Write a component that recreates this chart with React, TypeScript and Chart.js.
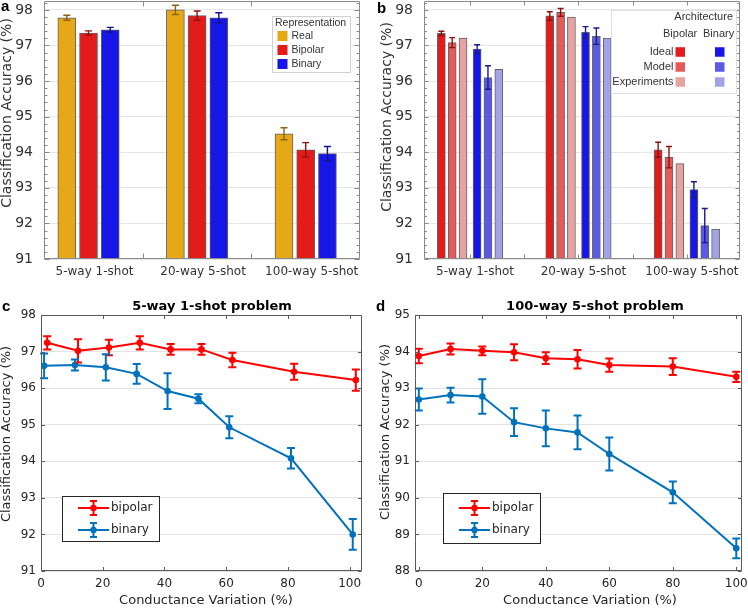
import React, { useEffect, useRef } from 'react';
import { Chart, registerables } from 'chart.js';
Chart.register(...registerables);

const VERDANA = "'DejaVu Sans', Verdana, sans-serif";
const ARIAL = "'Liberation Sans', Arial, sans-serif";

// ---------------- data: panel a ----------------
const barCategories = ['5-way 1-shot', '20-way 5-shot', '100-way 5-shot'];
const representationLabels = ['Real', 'Bipolar', 'Binary'];
const realAcc = [97.78, 98.0, 94.52];
const realErr = [0.07, 0.13, 0.17];
const bipolarAcc = [97.35, 97.84, 94.07];
const bipolarErr = [0.06, 0.13, 0.2];
const binaryAcc = [97.44, 97.78, 93.96];
const binaryErr = [0.07, 0.14, 0.2];

// ---------------- data: panel b ----------------
const architectureTitle = 'Architecture';
const architectureRows = ['Ideal', 'Model', 'Experiments'];
const architectureCols = ['Bipolar', 'Binary'];
const bipolarIdeal = [97.34, 97.83, 94.07];
const bipolarIdealErr = [0.06, 0.12, 0.21];
const bipolarModel = [97.08, 97.93, 93.86];
const bipolarModelErr = [0.14, 0.11, 0.3];
const bipolarExperiments = [97.21, 97.8, 93.68];
const binaryIdeal = [96.9, 97.37, 92.95];
const binaryIdealErr = [0.12, 0.16, 0.22];
const binaryModel = [96.1, 97.26, 91.94];
const binaryModelErr = [0.33, 0.23, 0.48];
const binaryExperiments = [96.33, 97.21, 91.84];
const accuracyTicksAB = [91, 92, 93, 94, 95, 96, 97, 98];

// ---------------- data: panel c ----------------
const cTitle = '5-way 1-shot problem';
const cBipolarX = [2, 12, 22, 32, 42, 52, 62, 82, 102];
const cBipolarY = [97.24, 97.02, 97.11, 97.24, 97.06, 97.06, 96.77, 96.45, 96.22];
const cBipolarErr = [0.18, 0.32, 0.21, 0.18, 0.15, 0.15, 0.2, 0.22, 0.29];
const cBinaryX = [1, 11, 21, 31, 41, 51, 61, 81, 101];
const cBinaryY = [96.61, 96.63, 96.57, 96.39, 95.92, 95.71, 94.93, 94.08, 92.0];
const cBinaryErr = [0.34, 0.15, 0.36, 0.27, 0.49, 0.12, 0.3, 0.28, 0.42];
const cAccuracyTicks = [91, 92, 93, 94, 95, 96, 97, 98];

// ---------------- data: panel d ----------------
const dTitle = '100-way 5-shot problem';
const dBipolarX = [0, 10, 20, 30, 40, 50, 60, 80, 100];
const dBipolarY = [93.88, 94.07, 94.02, 93.98, 93.82, 93.79, 93.63, 93.59, 93.31];
const dBipolarErr = [0.2, 0.15, 0.12, 0.22, 0.16, 0.25, 0.18, 0.23, 0.14];
const dBinaryX = [0, 10, 20, 30, 40, 50, 60, 80, 100];
const dBinaryY = [92.69, 92.81, 92.77, 92.07, 91.9, 91.79, 91.2, 90.15, 88.62];
const dBinaryErr = [0.3, 0.2, 0.47, 0.38, 0.49, 0.46, 0.45, 0.3, 0.27];
const dAccuracyTicks = [88, 89, 90, 91, 92, 93, 94, 95];

const variationTicks = [0, 20, 40, 60, 80, 100];
const seriesNames = ['bipolar', 'binary'];
const yTitle = 'Classification Accuracy (%)';
const xTitle = 'Conductance Variation (%)';

// ---------------- colours ----------------
const GOLD = '#E6A817';
const RED = '#E41B1B';
const BLUE = '#1616E6';
const RED_M = '#E65A5A';
const RED_E = '#E8A2A2';
const BLUE_M = '#5A5AE6';
const BLUE_E = '#A2A2E6';
const LINE_RED = '#FF0000';
const LINE_BLUE = '#0072BD';

// ---------------- plugins ----------------
const errorBarPlugin = {
  id: 'errorBars',
  afterDatasetsDraw(chart: any) {
    const ctx = chart.ctx;
    const ys = chart.scales.y;
    const order = chart.data.datasets.map((_: any, i: number) => i).reverse();
    order.forEach((i: number) => {
      const ds: any = chart.data.datasets[i];
      if (!ds.errors) return;
      const meta = chart.getDatasetMeta(i);
      ctx.save();
      ctx.strokeStyle = ds.errorColor;
      ctx.lineWidth = ds.errorWidth;
      meta.data.forEach((el: any, j: number) => {
        const e = ds.errors[j];
        if (e == null) return;
        const v = ds.data[j].y;
        const x = el.x;
        const y1 = ys.getPixelForValue(v - e);
        const y2 = ys.getPixelForValue(v + e);
        const cw = ds.capWidth / 2;
        ctx.beginPath();
        ctx.moveTo(x, y1); ctx.lineTo(x, y2);
        ctx.moveTo(x - cw, y1); ctx.lineTo(x + cw, y1);
        ctx.moveTo(x - cw, y2); ctx.lineTo(x + cw, y2);
        ctx.stroke();
      });
      ctx.restore();
    });
  },
};

const framePlugin = {
  id: 'frame',
  afterDraw(chart: any, _a: any, o: any) {
    const { ctx, chartArea: ca, scales } = chart;
    const L = Math.round(ca.left) + 0.5;
    const R = Math.round(ca.right) - 0.5;
    const T = Math.round(ca.top) + 0.5;
    const B = Math.round(ca.bottom) - 0.5;
    ctx.save();
    ctx.strokeStyle = o.color;
    ctx.lineWidth = 1;
    ctx.beginPath();
    ctx.rect(L, T, R - L, B - T);
    (o.xTicks || []).forEach((v: number) => {
      const x = Math.round(scales.x.getPixelForValue(v)) + 0.5;
      ctx.moveTo(x, B); ctx.lineTo(x, B - o.len);
      ctx.moveTo(x, T); ctx.lineTo(x, T + o.len);
    });
    (o.yTicks || []).forEach((v: number) => {
      const y = Math.round(scales.y.getPixelForValue(v)) + 0.5;
      ctx.moveTo(L, y); ctx.lineTo(L + o.len, y);
      ctx.moveTo(R, y); ctx.lineTo(R - o.len, y);
    });
    (o.yMinor || []).forEach((v: number) => {
      const y = Math.round(scales.y.getPixelForValue(v)) + 0.5;
      ctx.moveTo(L, y); ctx.lineTo(L + o.minorLen, y);
      ctx.moveTo(R, y); ctx.lineTo(R - o.minorLen, y);
    });
    ctx.stroke();
    ctx.restore();
  },
};

const textPlugin = {
  id: 'texts',
  afterDraw(chart: any, _a: any, o: any) {
    const ctx = chart.ctx;
    (o.items || []).forEach((t: any) => {
      ctx.save();
      ctx.font = t.font;
      ctx.fillStyle = t.color || '#262626';
      ctx.textAlign = t.align || 'center';
      ctx.textBaseline = 'middle';
      ctx.translate(t.x, t.y);
      if (t.rotate) ctx.rotate(t.rotate);
      ctx.fillText(t.text, 0, 0);
      ctx.restore();
    });
  },
};

const swatchLegendPlugin = {
  id: 'swatchLegend',
  afterDraw(chart: any, _a: any, o: any) {
    const ctx = chart.ctx;
    ctx.save();
    const b = o.box;
    ctx.fillStyle = '#fff';
    ctx.fillRect(b.x, b.y, b.w, b.h);
    ctx.strokeStyle = o.borderColor;
    ctx.lineWidth = 1;
    ctx.strokeRect(b.x + 0.5, b.y + 0.5, b.w, b.h);
    ctx.font = o.font;
    ctx.fillStyle = '#333';
    ctx.textBaseline = 'middle';
    (o.texts || []).forEach((t: any) => {
      ctx.textAlign = t.align;
      ctx.fillText(t.text, t.x, t.y);
    });
    (o.swatches || []).forEach((s: any) => {
      ctx.fillStyle = s.color;
      ctx.fillRect(s.x, s.y - s.size / 2, s.size, s.size);
    });
    ctx.restore();
  },
};

const lineLegendPlugin = {
  id: 'lineLegend',
  afterDraw(chart: any, _a: any, o: any) {
    const ctx = chart.ctx;
    const b = o.box;
    ctx.save();
    ctx.fillStyle = '#fff';
    ctx.fillRect(b.x, b.y, b.w, b.h);
    ctx.strokeStyle = '#262626';
    ctx.lineWidth = 1;
    ctx.strokeRect(b.x + 0.5, b.y + 0.5, b.w, b.h);
    o.items.forEach((it: any) => {
      const mid = (o.x1 + o.x2) / 2;
      ctx.strokeStyle = it.color;
      ctx.fillStyle = it.color;
      ctx.lineWidth = 2;
      ctx.beginPath();
      ctx.moveTo(o.x1, it.y); ctx.lineTo(o.x2, it.y);
      ctx.moveTo(mid, it.y - 7); ctx.lineTo(mid, it.y + 7);
      ctx.moveTo(mid - 3.5, it.y - 7); ctx.lineTo(mid + 3.5, it.y - 7);
      ctx.moveTo(mid - 3.5, it.y + 7); ctx.lineTo(mid + 3.5, it.y + 7);
      ctx.stroke();
      ctx.beginPath();
      ctx.arc(mid, it.y, 3.2, 0, Math.PI * 2);
      ctx.fill();
      ctx.fillStyle = '#262626';
      ctx.font = o.font;
      ctx.textAlign = 'left';
      ctx.textBaseline = 'middle';
      ctx.fillText(it.label, o.textX, it.y);
    });
    ctx.restore();
  },
};

// ---------------- helpers ----------------
function yScale(min: number, max: number, ticks: number[], width: number, size: number, padding: number, color: string, grid: string) {
  return {
    type: 'linear',
    min,
    max,
    afterBuildTicks: (s: any) => { s.ticks = ticks.map((v) => ({ value: v })); },
    afterFit: (s: any) => { s.width = width; s.paddingTop = 0; s.paddingBottom = 0; },
    grid: { color: grid, drawTicks: false, lineWidth: 1 },
    border: { display: false },
    ticks: { padding, color, font: { family: VERDANA, size } },
  };
}

function minorTicks(from: number, to: number, step: number) {
  const out: number[] = [];
  for (let v = from; v <= to + 1e-9; v += step) out.push(Math.round(v * 100) / 100);
  return out;
}

function barDataset(label: string, values: number[], errors: number[] | null, offset: number, color: string, errColor: string, thickness: number) {
  return {
    label,
    data: values.map((v, i) => ({ x: i + 1 + offset, y: v })),
    backgroundColor: color,
    borderColor: 'rgba(70,70,70,0.85)',
    borderWidth: 1,
    barThickness: thickness,
    grouped: false,
    base: 91,
    errors,
    errorColor: errColor,
    errorWidth: 1.4,
    capWidth: thickness > 10 ? 7 : 6,
  };
}

function barX(min: number, max: number, labelOffset: number) {
  return {
    type: 'linear',
    min,
    max,
    offset: false,
    afterBuildTicks: (s: any) => { s.ticks = [1, 2, 3].map((v) => ({ value: v })); },
    afterFit: (s: any) => { s.height = 31; s.paddingLeft = 0; s.paddingRight = 0; },
    grid: { display: false, drawTicks: false },
    border: { display: false },
    ticks: {
      padding: 6,
      labelOffset,
      autoSkip: false,
      maxRotation: 0,
      color: '#333',
      font: { family: VERDANA, size: 12 },
      callback: (v: any) => barCategories[Math.round(v) - 1] ?? '',
    },
  };
}

function makePanelA() {
  return {
    type: 'bar',
    data: {
      datasets: [
        barDataset(representationLabels[0], realAcc, realErr, -0.2, GOLD, '#8a6410', 18),
        barDataset(representationLabels[1], bipolarAcc, bipolarErr, 0, RED, '#8c1212', 18),
        barDataset(representationLabels[2], binaryAcc, binaryErr, 0.2, BLUE, '#12128c', 18),
      ],
    },
    options: {
      responsive: false,
      animation: false,
      events: [],
      layout: { padding: { left: 0, right: 14, top: 1, bottom: 0 }, autoPadding: false },
      scales: {
        x: barX(0.59, 3.5, 6),
        y: yScale(91, 98.25, accuracyTicksAB, 44, 14, 11, '#333', '#e6e6e6'),
      },
      plugins: {
        legend: { display: false },
        tooltip: { enabled: false },
        frame: { color: '#8a8a8a', xTicks: [1.5, 2.5], yTicks: accuracyTicksAB, yMinor: minorTicks(91, 98.2, 0.2), len: 5, minorLen: 3 },
        swatchLegend: {
          box: { x: 272, y: 16, w: 78, h: 56 },
          borderColor: '#d0d0d0',
          font: `10.5px ${ARIAL}`,
          texts: [
            { text: 'Representation', x: 275, y: 23.5, align: 'left' },
            { text: representationLabels[0], x: 291.5, y: 36, align: 'left' },
            { text: representationLabels[1], x: 291.5, y: 50, align: 'left' },
            { text: representationLabels[2], x: 291.5, y: 64, align: 'left' },
          ],
          swatches: [
            { color: GOLD, x: 277.5, y: 36, size: 10 },
            { color: RED, x: 277.5, y: 50, size: 10 },
            { color: BLUE, x: 277.5, y: 64, size: 10 },
          ],
        },
        texts: {
          items: [
            { text: 'a', x: 1, y: 7, align: 'left', font: `bold 15px ${ARIAL}`, color: '#000' },
            { text: yTitle, x: 7, y: 113, rotate: -Math.PI / 2, font: `14px ${VERDANA}`, color: '#333' },
          ],
        },
      },
    },
    plugins: [errorBarPlugin, framePlugin, swatchLegendPlugin, textPlugin],
  };
}

function makePanelB() {
  return {
    type: 'bar',
    data: {
      datasets: [
        barDataset('Bipolar Ideal', bipolarIdeal, bipolarIdealErr, -0.265, RED, '#8c1212', 8),
        barDataset('Bipolar Model', bipolarModel, bipolarModelErr, -0.165, RED_M, '#8c1212', 8),
        barDataset('Bipolar Experiments', bipolarExperiments, null, -0.065, RED_E, '#8c1212', 8),
        barDataset('Binary Ideal', binaryIdeal, binaryIdealErr, 0.065, BLUE, '#1a1a8c', 8),
        barDataset('Binary Model', binaryModel, binaryModelErr, 0.165, BLUE_M, '#1a1a8c', 8),
        barDataset('Binary Experiments', binaryExperiments, null, 0.265, BLUE_E, '#1a1a8c', 8),
      ],
    },
    options: {
      responsive: false,
      animation: false,
      events: [],
      layout: { padding: { left: 0, right: 8, top: 1, bottom: 0 }, autoPadding: false },
      scales: {
        x: barX(0.575, 3.49, 5),
        y: yScale(91, 98.25, accuracyTicksAB, 50, 14, 11, '#333', '#e6e6e6'),
      },
      plugins: {
        legend: { display: false },
        tooltip: { enabled: false },
        frame: { color: '#8a8a8a', xTicks: [1, 1.5, 2, 2.5, 3], yTicks: accuracyTicksAB, yMinor: minorTicks(91, 98.2, 0.2), len: 4, minorLen: 2.5 },
        swatchLegend: {
          box: { x: 237, y: 10, w: 125, h: 83 },
          borderColor: '#e0e0e0',
          font: `11px ${ARIAL}`,
          texts: [
            { text: architectureTitle, x: 359, y: 17, align: 'right' },
            { text: architectureCols[0], x: 289, y: 34, align: 'left' },
            { text: architectureCols[1], x: 329, y: 34, align: 'left' },
            { text: architectureRows[0], x: 299.5, y: 52, align: 'right' },
            { text: architectureRows[1], x: 299.5, y: 67, align: 'right' },
            { text: architectureRows[2], x: 299.5, y: 82, align: 'right' },
          ],
          swatches: [
            { color: RED, x: 301.5, y: 52, size: 9.5 },
            { color: RED_M, x: 301.5, y: 67, size: 9.5 },
            { color: RED_E, x: 301.5, y: 82, size: 9.5 },
            { color: BLUE, x: 341, y: 52, size: 9.5 },
            { color: BLUE_M, x: 341, y: 67, size: 9.5 },
            { color: BLUE_E, x: 341, y: 82, size: 9.5 },
          ],
        },
        texts: {
          items: [
            { text: 'b', x: 3, y: 9, align: 'left', font: `bold 15px ${ARIAL}`, color: '#000' },
            { text: yTitle, x: 13, y: 117, rotate: -Math.PI / 2, font: `14px ${VERDANA}`, color: '#333' },
          ],
        },
      },
    },
    plugins: [errorBarPlugin, framePlugin, swatchLegendPlugin, textPlugin],
  };
}

function lineDataset(label: string, xs: number[], ys: number[], errs: number[], color: string) {
  return {
    label,
    data: xs.map((x, i) => ({ x, y: ys[i] })),
    borderColor: color,
    backgroundColor: color,
    borderWidth: 2,
    pointRadius: 3.3,
    pointBorderWidth: 0,
    pointBackgroundColor: color,
    tension: 0,
    errors: errs,
    errorColor: color,
    errorWidth: 2,
    capWidth: 8,
  };
}

function makeLinePanel(p: any) {
  return {
    type: 'line',
    data: {
      datasets: [
        lineDataset(seriesNames[1], p.binX, p.binY, p.binE, LINE_BLUE),
        lineDataset(seriesNames[0], p.bipX, p.bipY, p.bipE, LINE_RED),
      ],
    },
    options: {
      responsive: false,
      animation: false,
      events: [],
      layout: { padding: { left: 0, right: p.padRight, top: 25, bottom: 0 }, autoPadding: false },
      scales: {
        x: {
          type: 'linear',
          min: p.xMin,
          max: p.xMax,
          afterBuildTicks: (s: any) => { s.ticks = variationTicks.map((v) => ({ value: v })); },
          afterFit: (s: any) => { s.height = 38; s.paddingLeft = 0; s.paddingRight = 0; },
          grid: { display: false, drawTicks: false },
          border: { display: false },
          ticks: { padding: 6, color: '#262626', maxRotation: 0, font: { family: VERDANA, size: 12 } },
        },
        y: yScale(p.yMin, p.yMax, p.yTicks, p.yWidth, 12, 5, '#262626', '#e3e3e3'),
      },
      plugins: {
        legend: { display: false },
        tooltip: { enabled: false },
        frame: { color: '#5a5a5a', xTicks: variationTicks, yTicks: p.yTicks, len: 3.5 },
        lineLegend: {
          box: p.legendBox,
          x1: p.legendX1,
          x2: p.legendX2,
          textX: p.legendTextX,
          font: `12px ${VERDANA}`,
          items: [
            { label: seriesNames[0], color: LINE_RED, y: p.legendY[0] },
            { label: seriesNames[1], color: LINE_BLUE, y: p.legendY[1] },
          ],
        },
        texts: {
          items: [
            { text: p.letter, x: 2, y: 17, align: 'left', font: `bold 15px ${ARIAL}`, color: '#000' },
            { text: p.title, x: p.titleX, y: 17, font: `bold 13px ${VERDANA}`, color: '#000' },
            { text: xTitle, x: p.xTitleX, y: 311, font: `13px ${VERDANA}`, color: '#262626' },
            { text: yTitle, x: p.yTitleX, y: p.yTitleY, rotate: -Math.PI / 2, font: `13px ${VERDANA}`, color: '#262626' },
          ],
        },
      },
    },
    plugins: [errorBarPlugin, framePlugin, lineLegendPlugin, textPlugin],
  };
}

function makePanelC() {
  return makeLinePanel({
    binX: cBinaryX, binY: cBinaryY, binE: cBinaryErr,
    bipX: cBipolarX, bipY: cBipolarY, bipE: cBipolarErr,
    xMin: 0, xMax: 104, yMin: 91, yMax: 98, yTicks: cAccuracyTicks,
    yWidth: 41, padRight: 12,
    legendBox: { x: 62, y: 206, w: 97, h: 45 },
    legendX1: 78, legendX2: 109, legendTextX: 111, legendY: [218, 240],
    letter: 'c', title: cTitle, titleX: 212, xTitleX: 206, yTitleX: 7, yTitleY: 144,
  });
}

function makePanelD() {
  return makeLinePanel({
    binX: dBinaryX, binY: dBinaryY, binE: dBinaryErr,
    bipX: dBipolarX, bipY: dBipolarY, bipE: dBipolarErr,
    xMin: -1.2, xMax: 101.8, yMin: 88, yMax: 95, yTicks: dAccuracyTicks,
    yWidth: 41, padRight: 6,
    legendBox: { x: 69, y: 203, w: 97, h: 50 },
    legendX1: 85, legendX2: 116, legendTextX: 118, legendY: [218, 240],
    letter: 'd', title: dTitle, titleX: 221, xTitleX: 216, yTitleX: 12, yTitleY: 142,
  });
}

function ChartCanvas({ left, top, width, height, make }: { left: number; top: number; width: number; height: number; make: () => any }) {
  const ref = useRef<HTMLCanvasElement>(null);
  useEffect(() => {
    const chart = new Chart(ref.current as HTMLCanvasElement, make());
    return () => chart.destroy();
  }, []);
  return (
    <div style={{ position: 'absolute', left, top, width, height }}>
      <canvas ref={ref} width={width} height={height} style={{ width, height, display: 'block' }} />
    </div>
  );
}

export default function App() {
  return (
    <div style={{ position: 'absolute', left: 0, top: 0, width: 748, height: 609, background: '#fff', overflow: 'hidden' }}>
      <ChartCanvas left={0} top={0} width={374} height={290} make={makePanelA} />
      <ChartCanvas left={374} top={0} width={374} height={290} make={makePanelB} />
      <ChartCanvas left={0} top={290} width={374} height={319} make={makePanelC} />
      <ChartCanvas left={374} top={290} width={374} height={319} make={makePanelD} />
    </div>
  );
}
